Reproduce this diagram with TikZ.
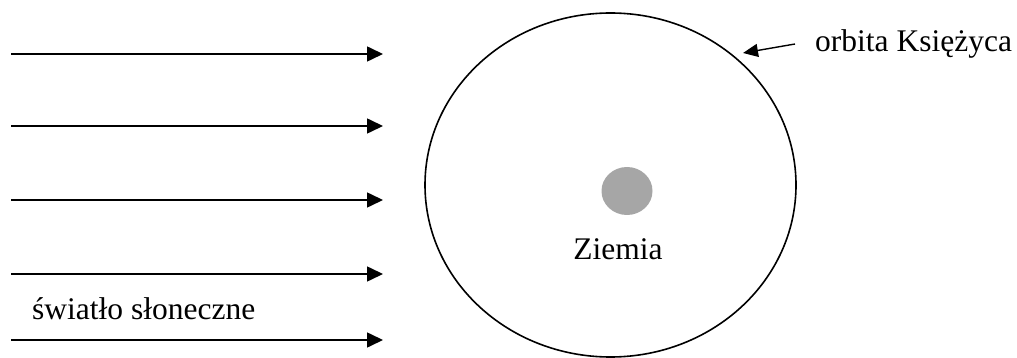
\documentclass[tikz,border=0pt]{standalone}
\usepackage{fontspec}
\setmainfont{Liberation Serif}
\usetikzlibrary{arrows.meta,shapes.geometric}
\begin{document}
\begin{tikzpicture}[x=1pt,y=-1pt,
  ray/.style={line width=1.6pt,-{Triangle[length=16pt,width=15pt]}},
  lbl/.style={font=\fontsize{31.5}{36}\selectfont,inner sep=0pt},
  orbit/.style={draw,ellipse,line width=1.6pt,minimum width=371pt,minimum height=344pt,inner sep=0pt},
  earth/.style={ellipse,fill=black!35,minimum width=51pt,minimum height=48pt,inner sep=0pt}]
\useasboundingbox (0,0) rectangle (1017,358);
\node[orbit] (orb) at (610.5,185) {};
\node[earth] (zm) at (627,191) {};
\node[lbl,anchor=base] (zl) at (618,259) {Ziemia};
\node[lbl,anchor=base west] (ok) at (815,52) {orbita Księżyca};
\node[lbl,anchor=base west] (sw) at (32,319) {światło słoneczne};
\coordinate (okstart) at (795,44);
\coordinate (oktip) at (743,53);
\draw[ray,line width=1.4pt,-{Triangle[length=15pt,width=13pt]}] (okstart) -- (oktip);
\foreach \i/\y in {1/54,2/126,3/200,4/274,5/340}{
  \coordinate (s\i) at (11,\y);
  \coordinate (e\i) at (383,\y);
  \draw[ray] (s\i) -- (e\i);
}
\end{tikzpicture}
\end{document}
